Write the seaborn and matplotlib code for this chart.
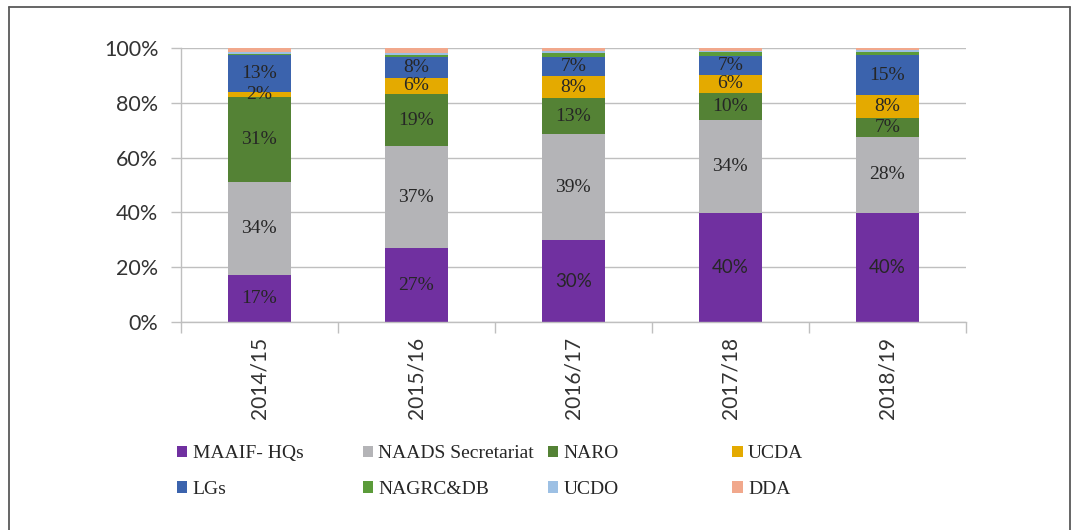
import matplotlib
matplotlib.use("Agg")
import matplotlib.pyplot as plt
import seaborn as sns
import numpy as np
from matplotlib.patches import Patch
from matplotlib.lines import Line2D

years = ["2014/15", "2015/16", "2016/17", "2017/18", "2018/19"]
maaif = [17.2, 27.0, 29.9, 39.8, 39.8]
naads = [33.9, 37.2, 38.7, 33.9, 27.8]
naro = [31.0, 19.0, 13.0, 10.0, 7.0]
ucda = [1.8, 6.0, 8.3, 6.4, 8.2]
lgs = [13.4, 7.6, 6.9, 7.1, 14.6]
nagrc = [0.6, 0.6, 1.5, 1.2, 1.2]
ucdo = [0.6, 0.8, 0.6, 0.5, 0.5]
dda = [1.5, 1.8, 1.1, 1.1, 0.9]

names = ["MAAIF- HQs", "NAADS Secretariat", "NARO", "UCDA",
         "LGs", "NAGRC&DB", "UCDO", "DDA"]
series = [maaif, naads, naro, ucda, lgs, nagrc, ucdo, dda]
colors = ["#7030a0", "#b4b4b7", "#548235", "#e4aa00",
          "#3b63ad", "#5b9b3a", "#9dc0e4", "#f1a88c"]
labelled = {"MAAIF- HQs", "NAADS Secretariat", "NARO", "UCDA", "LGs"}

sns.set_theme(style="white")
plt.rcParams["font.family"] = ["Lato", "DejaVu Sans"]

W, H = 1071, 530
fig = plt.figure(figsize=(W / 100, H / 100), dpi=100)
ax = fig.add_axes([180.7 / W, 1 - 322 / H, 785 / W, 274 / H])

bottom = np.zeros(len(years))
text_col = "#262626"
for name, vals, col in zip(names, series, colors):
    vals = np.array(vals, dtype=float)
    sns.barplot(x=years, y=vals, bottom=bottom, color=col, width=0.4,
                saturation=1, linewidth=0, ax=ax)
    cont = ax.containers[-1]
    if name in labelled:
        labs = [f"{round(v)}%" for v in vals]
        texts = ax.bar_label(cont, labels=labs, label_type="center",
                             fontsize=14, color=text_col,
                             family=["Liberation Serif", "DejaVu Serif"])
        if name == "MAAIF- HQs":
            for i, t in enumerate(texts):
                if i >= 2:
                    t.set_fontfamily(["Lato", "DejaVu Sans"])
                    t.set_fontsize(13.5)
    bottom = bottom + vals

ax.set_xlim(-0.5, 4.5)
ax.set_ylim(0, 100)
yt = [0, 20, 40, 60, 80, 100]
ax.set_yticks(yt)
ax.set_yticklabels([f"{v}%" for v in yt])
ax.yaxis.grid(True, color="#bfbfbf", linewidth=1)
ax.set_axisbelow(True)
for s in ["top", "right"]:
    ax.spines[s].set_visible(False)
for s in ["left", "bottom"]:
    ax.spines[s].set_color("#bfbfbf")
    ax.spines[s].set_linewidth(1)

ax.set_xticks(range(len(years)))
ax.set_xticklabels(years, rotation=90)
ax.set_xticks(np.arange(-0.5, len(years), 1), minor=True)
ax.tick_params(axis="x", which="major", length=0, pad=11, labelsize=15,
               labelcolor="#333333")
ax.tick_params(axis="x", which="minor", length=8, width=1, color="#bfbfbf",
               bottom=True)
ax.tick_params(axis="y", which="major", length=7, width=1, color="#bfbfbf",
               pad=9, labelsize=15.5, labelcolor="#333333", left=True)
ax.set_xlabel("")
ax.set_ylabel("")

# legend: four columns, two rows each
col_x = [176.7, 362.5, 547.5, 732.0]
y_mid = 1 - 471.5 / H
for c in range(4):
    idx = [c, c + 4]
    handles = [Patch(facecolor=colors[i], edgecolor="none") for i in idx]
    leg = fig.legend(handles, [names[i] for i in idx], loc="center left",
                     bbox_to_anchor=(col_x[c] / W, y_mid), frameon=False,
                     borderpad=0, borderaxespad=0, handlelength=0.55,
                     handleheight=0.55, handletextpad=0.27, labelspacing=0.95,
                     prop={"family": ["Liberation Serif", "DejaVu Serif"],
                           "size": 14})
    for t in leg.get_texts():
        t.set_color(text_col)

# outer frame (top, left, right)
fc = "#595959"
fig.add_artist(Line2D([8.5 / W, 8.5 / W], [0, 1 - 7 / H],
                      transform=fig.transFigure, color=fc, lw=1.3))
fig.add_artist(Line2D([8.5 / W, 1069.5 / W], [1 - 7 / H, 1 - 7 / H],
                      transform=fig.transFigure, color=fc, lw=1.3))
fig.add_artist(Line2D([1069.5 / W, 1069.5 / W], [0, 1 - 7 / H],
                      transform=fig.transFigure, color=fc, lw=1.3))

fig.savefig("out.png", dpi=100)
